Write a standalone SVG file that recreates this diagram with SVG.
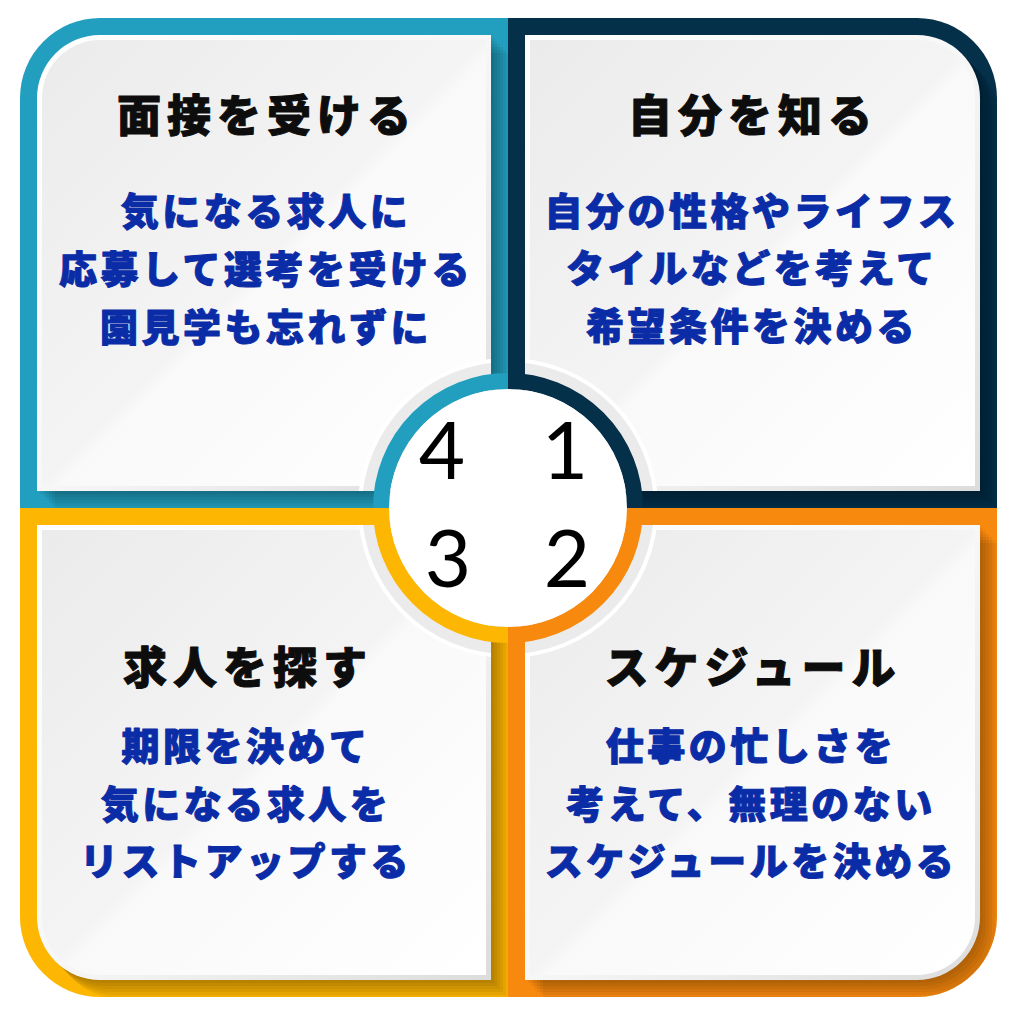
<svg xmlns="http://www.w3.org/2000/svg" width="1024" height="1024" viewBox="0 0 1024 1024">
<style>
.title{font-family:"Noto Sans CJK JP","Noto Sans",sans-serif;font-weight:900;font-size:44px;letter-spacing:6px;fill:#0d0d0d;stroke:#0d0d0d;stroke-width:1;stroke-linejoin:round;text-anchor:middle}
.body{font-family:"Noto Sans CJK JP","Noto Sans",sans-serif;font-weight:900;font-size:38px;letter-spacing:3.5px;fill:#0a2ca6;stroke:#0a2ca6;stroke-width:1;stroke-linejoin:round;text-anchor:middle}
.num{font-family:"Lato","DejaVu Sans",sans-serif;font-weight:400;font-size:80px;fill:#000;text-anchor:middle}
.sh{fill:#000;opacity:0.05}
.rim{fill:url(#rimG)}
.face{fill:url(#faceG)}
</style>
<defs>
<linearGradient id="rimG" x1="0" y1="0" x2="1" y2="1">
<stop offset="0" stop-color="#ffffff"/>
<stop offset="0.5" stop-color="#f7f7f7"/>
<stop offset="1" stop-color="#dcdcdc"/>
</linearGradient>
<linearGradient id="faceG" x1="0" y1="0" x2="1" y2="1">
<stop offset="0" stop-color="#ebebeb"/>
<stop offset="0.5" stop-color="#f4f4f4"/>
<stop offset="0.52" stop-color="#f9f9f9"/>
<stop offset="1" stop-color="#ffffff"/>
</linearGradient>
<clipPath id="cTL"><path d="M20,98 A80,80 0 0 1 100,18 L508,18 L508,508 L20,508 Z"/></clipPath>
<clipPath id="cTR"><path d="M508,18 L917,18 A80,80 0 0 1 997,98 L997,508 L508,508 Z"/></clipPath>
<clipPath id="cBR"><path d="M508,508 L997,508 L997,917 A80,80 0 0 1 917,997 L508,997 Z"/></clipPath>
<clipPath id="cBL"><path d="M20,508 L508,508 L508,997 L100,997 A80,80 0 0 1 20,917 Z"/></clipPath>
<clipPath id="cPanels">
<rect x="37" y="35" width="454" height="456"/>
<rect x="525" y="35" width="455" height="456"/>
<rect x="525" y="525" width="455" height="455"/>
<rect x="37" y="525" width="454" height="455"/>
</clipPath>
<path id="pTL" d="M37,98 A63,63 0 0 1 100,35 L491,35 L491,491 L37,491 Z"/>
<path id="pTR" d="M525,35 L917,35 A63,63 0 0 1 980,98 L980,491 L525,491 Z"/>
<path id="pBR" d="M525,525 L980,525 L980,917 A63,63 0 0 1 917,980 L525,980 Z"/>
<path id="pBL" d="M37,525 L491,525 L491,980 L100,980 A63,63 0 0 1 37,917 Z"/>
</defs>

<g id="node-tl">
<path d="M20,98 A80,80 0 0 1 100,18 L508,18 L508,508 L20,508 Z" fill="#229fbe"/>
<g clip-path="url(#cTL)">
<use href="#pTL" class="sh" transform="translate(3,3)"/><use href="#pTL" class="sh" transform="translate(6,6)"/><use href="#pTL" class="sh" transform="translate(9,9)"/><use href="#pTL" class="sh" transform="translate(12,12)"/><use href="#pTL" class="sh" transform="translate(15,15)"/><use href="#pTL" class="sh" transform="translate(18,18)"/>
</g>
<use href="#pTL" class="rim"/>
<path d="M42,98 A58,58 0 0 1 100,40 L486,40 L486,486 L42,486 Z" class="face"/>
<text class="title" x="267" y="132">面接を受ける</text>
<text class="body" x="266" y="225">気になる求人に</text>
<text class="body" x="266" y="283">応募して選考を受ける</text>
<text class="body" x="266" y="341">園見学も忘れずに</text>
</g>

<g id="node-tr">
<path d="M508,18 L917,18 A80,80 0 0 1 997,98 L997,508 L508,508 Z" fill="#04304a"/>
<g clip-path="url(#cTR)">
<use href="#pTR" class="sh" transform="translate(3,3)"/><use href="#pTR" class="sh" transform="translate(6,6)"/><use href="#pTR" class="sh" transform="translate(9,9)"/><use href="#pTR" class="sh" transform="translate(12,12)"/><use href="#pTR" class="sh" transform="translate(15,15)"/><use href="#pTR" class="sh" transform="translate(18,18)"/>
</g>
<use href="#pTR" class="rim"/>
<path d="M530,40 L917,40 A58,58 0 0 1 975,98 L975,486 L530,486 Z" class="face"/>
<text class="title" x="753" y="132">自分を知る</text>
<text class="body" x="752" y="225">自分の性格やライフス</text>
<text class="body" x="752" y="282">タイルなどを考えて</text>
<text class="body" x="752" y="340">希望条件を決める</text>
</g>

<g id="node-br">
<path d="M508,508 L997,508 L997,917 A80,80 0 0 1 917,997 L508,997 Z" fill="#f78a0e"/>
<g clip-path="url(#cBR)">
<use href="#pBR" class="sh" transform="translate(3,3)"/><use href="#pBR" class="sh" transform="translate(6,6)"/><use href="#pBR" class="sh" transform="translate(9,9)"/><use href="#pBR" class="sh" transform="translate(12,12)"/><use href="#pBR" class="sh" transform="translate(15,15)"/><use href="#pBR" class="sh" transform="translate(18,18)"/>
</g>
<use href="#pBR" class="rim"/>
<path d="M530,530 L975,530 L975,917 A58,58 0 0 1 917,975 L530,975 Z" class="face"/>
<text class="title" x="753" y="684">スケジュール</text>
<text class="body" x="751" y="760">仕事の忙しさを</text>
<text class="body" x="751" y="818">考えて、無理のない</text>
<text class="body" x="751" y="875">スケジュールを決める</text>
</g>

<g id="node-bl">
<path d="M20,508 L508,508 L508,997 L100,997 A80,80 0 0 1 20,917 Z" fill="#fdb601"/>
<g clip-path="url(#cBL)">
<use href="#pBL" class="sh" transform="translate(3,3)"/><use href="#pBL" class="sh" transform="translate(6,6)"/><use href="#pBL" class="sh" transform="translate(9,9)"/><use href="#pBL" class="sh" transform="translate(12,12)"/><use href="#pBL" class="sh" transform="translate(15,15)"/><use href="#pBL" class="sh" transform="translate(18,18)"/>
</g>
<use href="#pBL" class="rim"/>
<path d="M42,530 L486,530 L486,975 L100,975 A58,58 0 0 1 42,917 Z" class="face"/>
<text class="title" x="248" y="684">求人を探す</text>
<text class="body" x="246" y="760">期限を決めて</text>
<text class="body" x="246" y="818">気になる求人を</text>
<text class="body" x="246" y="875">リストアップする</text>
</g>

<g id="center">
<g clip-path="url(#cPanels)">
<circle cx="508" cy="508" r="150" fill="#ffffff"/>
<circle cx="508" cy="508" r="146" fill="#ebebeb"/>
</g>
<g fill="none" stroke-width="16">
<path d="M381,508 A127,127 0 0 1 508,381" stroke="#229fbe"/>
<path d="M508,381 A127,127 0 0 1 635,508" stroke="#04304a"/>
<path d="M635,508 A127,127 0 0 1 508,635" stroke="#f78a0e"/>
<path d="M508,635 A127,127 0 0 1 381,508" stroke="#fdb601"/>
</g>
<circle cx="508" cy="508" r="119" fill="#ffffff"/>
<text class="num" x="442" y="479">4</text>
<text class="num" x="565" y="479">1</text>
<text class="num" x="448" y="587">3</text>
<text class="num" x="567" y="587">2</text>
</g>
</svg>
